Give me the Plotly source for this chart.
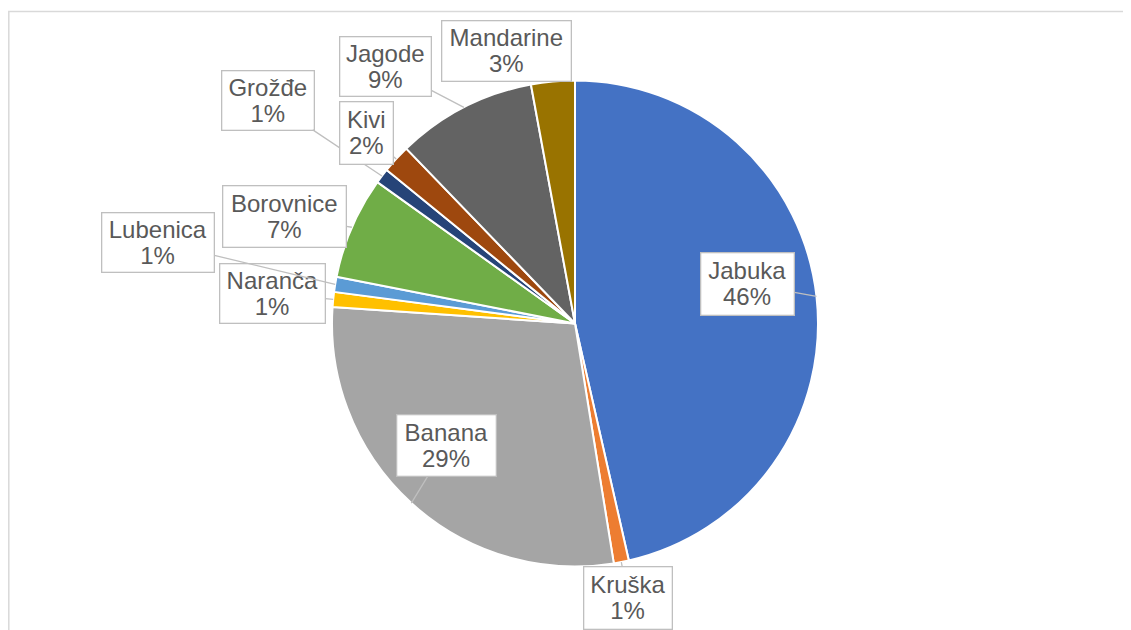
import math
import plotly.graph_objects as go

# ---- data ----
fruits = ["Jabuka", "Kruška", "Banana", "Naranča", "Lubenica",
          "Borovnice", "Grožđe", "Kivi", "Jagode", "Mandarine"]
shares = [46.4, 1.0, 28.6, 1.0, 1.0, 6.8, 1.0, 1.9, 9.3, 2.9]
colors = ["#4472C4", "#ED7D31", "#A5A5A5", "#FFC000", "#5B9BD5",
          "#70AD47", "#264478", "#9E480E", "#636363", "#997300"]

# ---- layout (pixels, in screenshot coordinates) ----
OFF = 8                      # default page body margin
W, H = 1131 - OFF, 630 - OFF
CX, CY, R = 575 - OFF, 323.5 - OFF, 243
# label box centres and sizes (px, screenshot coords)
label_box = {
    "Jabuka":    (747.5, 284, 95, 64),
    "Kruška":    (628, 598, 90, 64),
    "Banana":    (446.5, 445.5, 101, 63),
    "Naranča":   (272.5, 293, 107, 61),
    "Lubenica":  (158, 242, 114, 61),
    "Borovnice": (284.5, 216.5, 125, 63),
    "Grožđe":    (268, 100, 94, 61),
    "Kivi":      (366.5, 133, 55, 64),
    "Jagode":    (385.5, 66.5, 93, 61),
    "Mandarine": (506.5, 51, 131, 62),
}

fig = go.Figure(go.Pie(
    labels=fruits, values=shares, sort=False, direction="clockwise",
    rotation=0, textinfo="none", hoverinfo="label+percent",
    marker=dict(colors=colors, line=dict(color="white", width=2)),
    domain=dict(x=[(CX - R) / W, (CX + R) / W],
                y=[(H - CY - R) / H, (H - CY + R) / H]),
    showlegend=False,
))

total = sum(shares)
cum = 0.0
annotations = []
for name, v in zip(fruits, shares):
    mid = (cum + v / 2) / total * 2 * math.pi
    cum += v
    tx = CX + R * math.sin(mid)
    ty = CY - R * math.cos(mid)
    bx, by, bw, bh = label_box[name]
    bx, by = bx - OFF, by - OFF
    pct = round(v / total * 100)
    annotations.append(dict(
        x=tx / W, y=1 - ty / H, xref="paper", yref="paper",
        ax=bx - tx, ay=by - ty, axref="pixel", ayref="pixel",
        text=f"<span style='font-size:24px'>{name}</span><br><span style='font-size:24px'>{pct}%</span>",
        showarrow=True, arrowhead=0, arrowwidth=1.3,
        arrowcolor="rgba(0,0,0,0)" if name == "Mandarine" else "#BFBFBF",
        font=dict(family="Liberation Sans, Arial, sans-serif", size=20, color="#595959"),
        bgcolor="white", bordercolor="#BFBFBF", borderwidth=1.3, borderpad=0,
        width=bw - 3, height=bh - 3, align="center", valign="middle",
    ))

fig.update_layout(
    width=W, height=H, margin=dict(l=0, r=0, t=0, b=0),
    paper_bgcolor="white", plot_bgcolor="white",
    annotations=annotations,
    shapes=[dict(type="rect", xref="paper", yref="paper",
                 x0=0.8 / W, x1=1.02, y0=-0.02, y1=1 - (11.5 - OFF) / H,
                 line=dict(color="#D9D9D9", width=1.5), layer="below")],
)

fig.write_html("out.html")
